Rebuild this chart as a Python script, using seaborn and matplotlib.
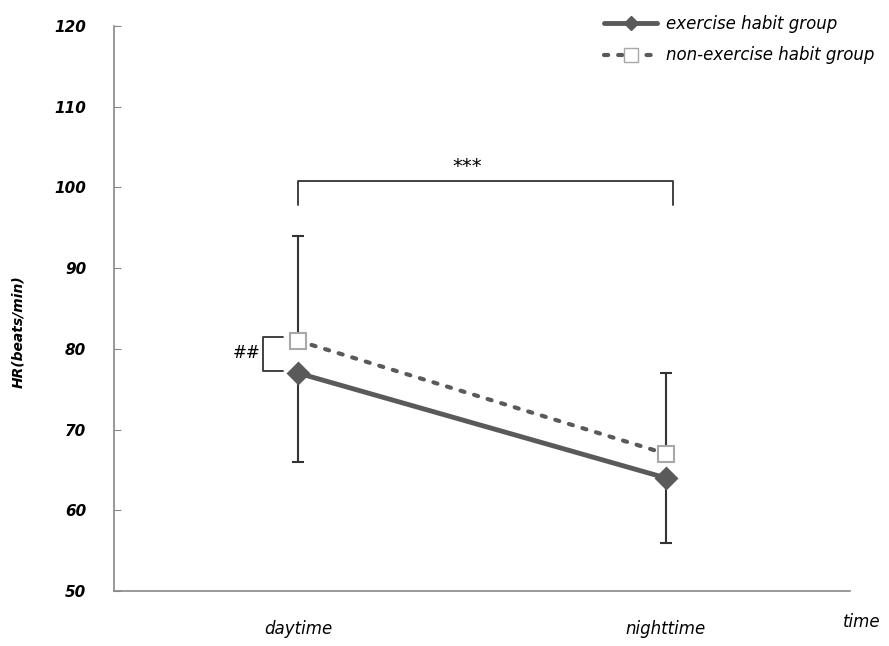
import matplotlib
matplotlib.use("Agg")
import matplotlib.pyplot as plt
import seaborn as sns
import pandas as pd
import numpy as np
from matplotlib.lines import Line2D

# data
times = ["daytime", "nighttime"]
groups = ["exercise habit group", "non-exercise habit group"]
exercise_hr = [77, 64]
exercise_sd = [11, 8]
nonexercise_hr = [81, 67]
nonexercise_sd = [13, 10]
yticks = [50, 60, 70, 80, 90, 100, 110, 120]

df = pd.DataFrame({
    "time": times * 2,
    "group": [groups[0]] * 2 + [groups[1]] * 2,
    "hr": exercise_hr + nonexercise_hr,
})

sns.set_style("white")
plt.rcParams["font.family"] = ["DejaVu Sans"]
plt.rcParams["text.color"] = "black"

fig = plt.figure(figsize=(8.89, 6.46), dpi=100)
ax = fig.add_axes([114 / 889, 1 - 591 / 646, (850 - 114) / 889, (591 - 26) / 646])

line_col = "#5a5a5a"
sns.pointplot(data=df, x="time", y="hr", hue="group", order=times, hue_order=groups,
              palette=[line_col, line_col], markers=["D", "s"], linestyles=["-", ":"],
              errorbar=None, ax=ax, legend=False)

pos = np.arange(len(times))
# one-sided error bars
ax.errorbar(pos, exercise_hr, yerr=[exercise_sd, [0] * len(times)], fmt="none",
            ecolor="#333333", elinewidth=1.5, capsize=4, capthick=1.5, zorder=1)
ax.errorbar(pos, nonexercise_hr, yerr=[[0] * len(times), nonexercise_sd], fmt="none",
            ecolor="#333333", elinewidth=1.5, capsize=4, capthick=1.5, zorder=1)

for l in ax.lines:
    if l.get_marker() == "D":
        l.set_linewidth(3.5)
        l.set_markersize(10)
        l.set_markerfacecolor(line_col)
        l.set_markeredgecolor(line_col)
        l.set_zorder(3)
    elif l.get_marker() == "s":
        l.set_linewidth(3)
        l.set_markersize(11)
        l.set_markerfacecolor("white")
        l.set_markeredgecolor("#a8a8a8")
        l.set_markeredgewidth(1.5)
        l.set_dashes([1, 2.4])
        l.set_dash_capstyle("round")
        l.set_zorder(3)

ax.set_xlim(-0.5, 1.5)
ax.set_ylim(50, 120)
ax.set_yticks(yticks)
ax.set_yticklabels([str(v) for v in yticks], fontsize=11, fontweight="bold", style="italic",
                   color="black")
ax.set_xticks(pos)
ax.set_xticklabels(times, fontsize=12, style="italic", color="black")
ax.tick_params(axis="x", which="major", length=0, pad=21)
ax.set_xticks([0.5, 1.5], minor=True)
ax.tick_params(axis="x", which="minor", direction="in", length=5, color="#888888")
ax.tick_params(axis="y", direction="in", length=5, color="#888888", pad=20, left=True)
ax.set_xlabel("")
ax.set_ylabel("")
for s in ["top", "right"]:
    ax.spines[s].set_visible(False)
for s in ["left", "bottom"]:
    ax.spines[s].set_color("#888888")
    ax.spines[s].set_linewidth(1.2)

# annotations
ax.plot([0, 0, 1.02, 1.02], [97.8, 100.8, 100.8, 97.8], color="#333333", lw=1.3, clip_on=False)
ax.text(0.46, 102.6, "***", ha="center", va="center", fontsize=14, color="black")
ax.plot([-0.04, -0.095, -0.095, -0.04], [81.5, 81.5, 77.3, 77.3], color="#333333", lw=1.3, clip_on=False)
ax.text(-0.14, 79.5, "##", ha="center", va="center", fontsize=12, color="black")

fig.text(18 / 889, 1 - 332 / 646, "HR(beats/min)", rotation=90, ha="center", va="center",
         fontsize=10, fontweight="bold", style="italic")
fig.text(862 / 889, 1 - 622 / 646, "time", ha="center", va="center", fontsize=12, style="italic")

h1 = Line2D([], [], color=line_col, lw=3.5, marker="D", markersize=7)
h2 = Line2D([], [], color=line_col, lw=3, marker="s", markersize=10, markerfacecolor="white",
            markeredgecolor="#a8a8a8", dashes=[1, 2.4], dash_capstyle="round")
fig.legend([h1, h2], groups, loc="upper right", bbox_to_anchor=(1.0, 1.0), frameon=False,
           prop={"style": "italic", "size": 12}, handlelength=3.2, labelspacing=0.8,
           handletextpad=0.5)

fig.savefig("out.png", dpi=100)
